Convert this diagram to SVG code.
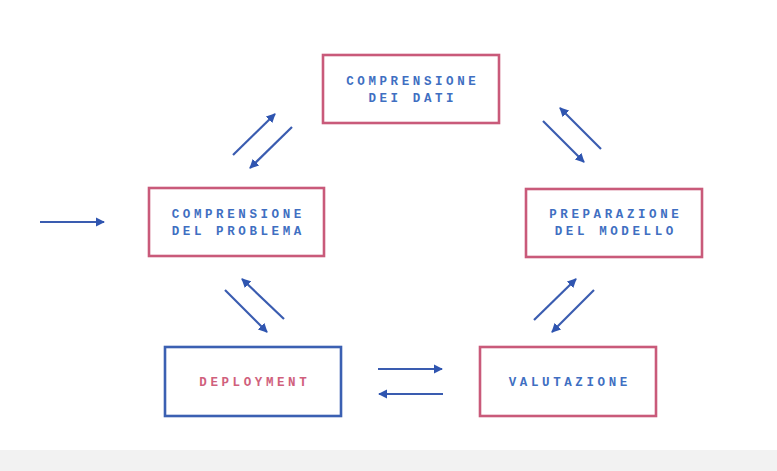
<svg xmlns="http://www.w3.org/2000/svg" width="777" height="471" viewBox="0 0 777 471">
<defs>
<style>
.box{fill:#fff;stroke-width:2.6}
.pk{stroke:#c95a7a}
.bl{stroke:#3b60b2}
.t{font-family:"Liberation Mono","DejaVu Sans Mono",monospace;font-weight:bold;font-size:12.5px;letter-spacing:3.6px;text-anchor:middle;fill:#3f6fc2}
.tp{fill:#d0607c}
.c{stroke:#3a5cb0;stroke-width:2.2;fill:none;marker-end:url(#ah)}
</style>
<marker id="ah" viewBox="0 0 10 10" refX="9" refY="5" markerWidth="4.2" markerHeight="4.2" orient="auto" markerUnits="strokeWidth">
<path d="M0,0 L10,5 L0,10 z" fill="#2f55b0"/>
</marker>
</defs>
<rect width="777" height="471" fill="#fff"/>
<rect x="0" y="450" width="777" height="21" fill="#f2f2f2"/>
<g id="connectors">
<line class="c" x1="40" y1="222" x2="104" y2="222"/>
<line class="c" x1="233" y1="155" x2="275" y2="114"/>
<line class="c" x1="292" y1="127" x2="250" y2="168"/>
<line class="c" x1="543" y1="121" x2="584" y2="162"/>
<line class="c" x1="601" y1="149" x2="560" y2="108"/>
<line class="c" x1="225" y1="290" x2="267" y2="332"/>
<line class="c" x1="284" y1="319" x2="242" y2="279"/>
<line class="c" x1="534" y1="320" x2="576" y2="279"/>
<line class="c" x1="594" y1="290" x2="552" y2="332"/>
<line class="c" x1="378" y1="369" x2="442" y2="369"/>
<line class="c" x1="443" y1="394" x2="379" y2="394"/>
</g>
<g id="dati">
<rect class="box pk" x="323" y="55" width="176" height="68"/>
<text class="t" x="412.8" y="85">COMPRENSIONE</text>
<text class="t" x="412.8" y="102">DEI DATI</text>
</g>
<g id="problema">
<rect class="box pk" x="149" y="188" width="175" height="68"/>
<text class="t" x="238.3" y="218">COMPRENSIONE</text>
<text class="t" x="238.3" y="235">DEL PROBLEMA</text>
</g>
<g id="modello">
<rect class="box pk" x="526" y="189" width="176" height="68"/>
<text class="t" x="615.8" y="218">PREPARAZIONE</text>
<text class="t" x="615.8" y="235">DEL MODELLO</text>
</g>
<g id="deployment">
<rect class="box bl" x="165" y="347" width="176" height="69"/>
<text class="t tp" x="254.8" y="386">DEPLOYMENT</text>
</g>
<g id="valutazione">
<rect class="box pk" x="480" y="347" width="176" height="69"/>
<text class="t" x="569.8" y="386">VALUTAZIONE</text>
</g>
</svg>
